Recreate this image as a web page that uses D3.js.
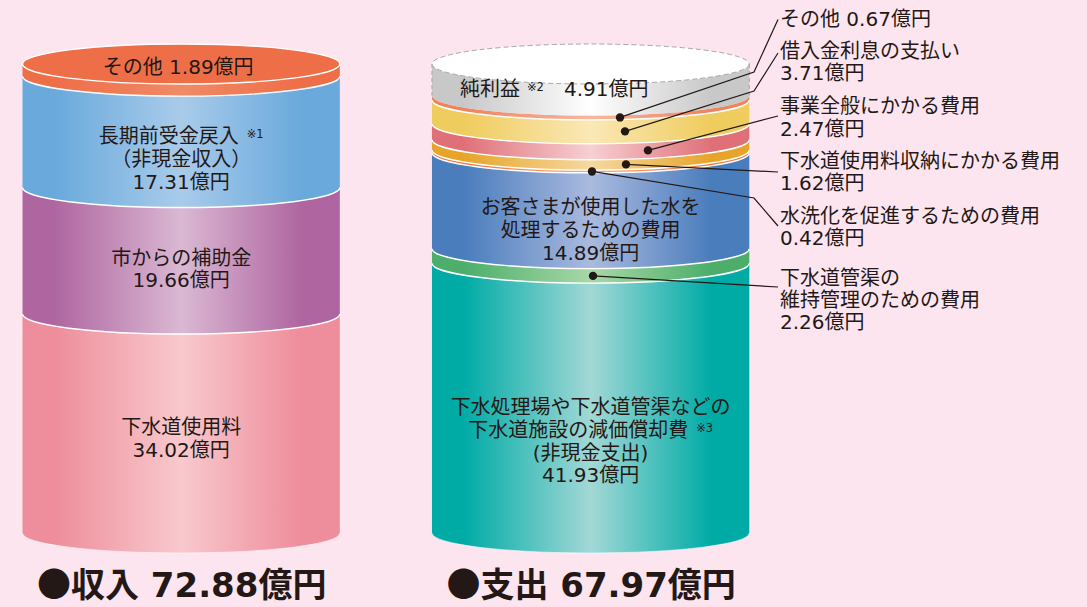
<!DOCTYPE html>
<html><head><meta charset="utf-8">
<script src="https://cdn.jsdelivr.net/npm/d3@7"></script>
<style>html,body{margin:0;padding:0;background:#fce5ef;} svg{display:block;}</style>
</head><body><svg id="chart" width="1087" height="607"></svg>
<script>
// ---------- data ----------
const cylinders = ["収入", "支出"];
const incomeCategories = ["下水道使用料", "市からの補助金", "長期前受金戻入", "その他"];   // bottom → top
const incomeValues = [34.02, 19.66, 17.31, 1.89];
const expenseCategories = [
  "下水処理場や下水道管渠などの下水道施設の減価償却費",
  "下水道管渠の維持管理のための費用",
  "お客さまが使用した水を処理するための費用",
  "水洗化を促進するための費用",
  "下水道使用料収納にかかる費用",
  "事業全般にかかる費用",
  "借入金利息の支払い",
  "その他",
  "純利益"
];                                                                        // bottom → top
const expenseValues = [41.93, 2.26, 14.89, 0.42, 1.62, 2.47, 3.71, 0.67, 4.91];
const unit = "億円";

// ---------- styles ----------
const incomeColors = [["#ee8d9b", "#f8c9cd"], ["#af66a0", "#dab8d3"], ["#69a9dc", "#a9cbea"], ["#ee6e48", "#f08a66"]];
const expenseColors = [
  ["#00aba6", "#a2d8d6"], ["#4cae6a", "#a8d8a8"], ["#4a7dbc", "#aabadf"], ["#f0783e", "#f7a77c"],
  ["#e6a52a", "#f5d9a0"], ["#e07078", "#f6d0d3"], ["#efcc5e", "#fae8b6"], ["#f0825c", "#f8b8a0"], ["#c8c8c8", "#ffffff"]
];
const textColor = "#231815";
const fontFamily = "'DejaVu Sans', 'Noto Sans CJK JP', sans-serif";
const cjkFont = "'Noto Sans CJK JP', sans-serif";
const fs = 20;

// ---------- layout ----------
const svg = d3.select("#chart");
const ry = 20;
const total = d3.sum(incomeValues);
const y = d3.scaleLinear().domain([0, total]).range([533, 64]);
const x = d3.scaleBand().domain(cylinders).range([22.5, 749.3]).paddingInner(0.225);
const lineH = 22.7;

const defs = svg.append("defs");
function grad(id, c) {
  const g = defs.append("linearGradient").attr("id", id).attr("x1", 0).attr("x2", 1).attr("y1", 0).attr("y2", 0);
  [[0, c[0]], [0.1, c[0]], [0.5, c[1]], [0.88, c[0]], [1, c[0]]].forEach(([o, col]) =>
    g.append("stop").attr("offset", o).attr("stop-color", col));
  return `url(#${id})`;
}

function bandPath(x0, x1, yTop, yBot) {
  const rx = (x1 - x0) / 2;
  return `M${x0},${yTop} A${rx},${ry} 0 0 0 ${x1},${yTop} L${x1},${yBot} A${rx},${ry} 0 0 1 ${x0},${yBot} Z`;
}
function arcPath(x0, x1, yy) {
  const rx = (x1 - x0) / 2;
  return `M${x0},${yy} A${rx},${ry} 0 0 0 ${x1},${yy}`;
}

function stackOf(values) {
  let c = 0;
  return values.map(v => { const s = { v, y0: c, y1: c + v }; c += v; return s; });
}

function drawCylinder(key, values, colors, prefix, topStyle) {
  const x0 = x(key), x1 = x(key) + x.bandwidth();
  const g = svg.append("g");
  const stack = stackOf(values);
  g.selectAll("path.band").data(stack).join("path")
    .attr("class", "band")
    .attr("d", d => bandPath(x0, x1, y(d.y1), y(d.y0)))
    .attr("fill", (d, i) => grad(`${prefix}${i}`, colors[i]));
  g.selectAll("path.sep").data(stack.slice(0, -1).filter((d, i) => !(topStyle === "dashed" && i === stack.length - 2)))
    .join("path").attr("class", "sep")
    .attr("d", d => arcPath(x0, x1, y(d.y1)))
    .attr("fill", "none").attr("stroke", "#ffffff").attr("stroke-width", 1.4);
  g.append("path").attr("d", arcPath(x0, x1, y(0))).attr("fill", "none").attr("stroke", "#fff").attr("stroke-opacity", 0.5).attr("stroke-width", 1);
  const cx = (x0 + x1) / 2, rx = (x1 - x0) / 2, yt = y(d3.sum(values));
  if (topStyle === "dashed") {
    const last = stack[stack.length - 1];
    g.selectAll("line.edge").data([x0, x1]).join("line")
      .attr("x1", d => d).attr("x2", d => d).attr("y1", y(last.y1)).attr("y2", y(last.y0))
      .attr("stroke", "#a8a8a8").attr("stroke-dasharray", "4,3").attr("stroke-width", 1);
    g.append("ellipse").attr("cx", cx).attr("cy", yt).attr("rx", rx).attr("ry", ry)
      .attr("fill", "#ffffff").attr("stroke", "#a8a8a8").attr("stroke-width", 1).attr("stroke-dasharray", "5,3");
  } else {
    g.append("ellipse").attr("cx", cx).attr("cy", yt).attr("rx", rx).attr("ry", ry)
      .attr("fill", colors[colors.length - 1][0]).attr("stroke", "#ffffff").attr("stroke-width", 1.4);
  }
  return { x0, x1, cx, rx, stack };
}

const L = drawCylinder("収入", incomeValues, incomeColors, "gi", "solid");
const R = drawCylinder("支出", expenseValues, expenseColors, "ge", "dashed");

const fmt = v => v.toFixed(2) + unit;

// ---------- in-cylinder labels ----------
function blockLabel(cyl, idx, lines, dy, note) {
  const s = cyl.stack[idx];
  const yc = y((s.y0 + s.y1) / 2) + ry + dy;
  const top = yc - (lines.length - 1) * lineH / 2;
  lines.forEach((ln, k) => {
    const t = svg.append("text").attr("x", cyl.cx).attr("y", top + k * lineH)
      .attr("dy", "0.36em").attr("text-anchor", "middle")
      .attr("font-family", fontFamily).attr("font-size", fs).attr("fill", textColor);
    t.append("tspan").text(ln);
    if (note && k === note.line) {
      t.append("tspan").attr("font-size", 11.5).attr("dx", 8).attr("dy", "-0.45em").text(note.text);
    }
  });
}
blockLabel(L, 0, [incomeCategories[0], fmt(incomeValues[0])], -5);
blockLabel(L, 1, [incomeCategories[1], fmt(incomeValues[1])], -2);
blockLabel(L, 2, [incomeCategories[2], "（非現金収入）", fmt(incomeValues[2])], 7, { line: 0, text: "※1" });
svg.append("text").attr("x", L.cx - 3).attr("y", y(total) + 3).attr("dy", "0.36em").attr("text-anchor", "middle")
  .attr("font-family", fontFamily).attr("font-size", fs).attr("fill", textColor)
  .text(`${incomeCategories[3]} ${fmt(incomeValues[3])}`);

blockLabel(R, 0, ["下水処理場や下水道管渠などの", "下水道施設の減価償却費", "(非現金支出)", fmt(expenseValues[0])], 23, { line: 1, text: "※3" });
blockLabel(R, 2, ["お客さまが使用した水を", "処理するための費用", fmt(expenseValues[2])], 9);
{
  const t = svg.append("text").attr("x", R.x0 + 28).attr("y", y(total) + 25).attr("dy", "0.36em")
    .attr("font-family", fontFamily).attr("font-size", fs).attr("fill", textColor);
  t.append("tspan").text(expenseCategories[8]);
  t.append("tspan").attr("font-size", 11.5).attr("dx", 7).attr("dy", "-0.45em").text("※2");
  t.append("tspan").attr("dx", 20).attr("dy", "0.25em").text(fmt(expenseValues[8]));
}

// ---------- annotations ----------
const annotations = [
  { i: 7, dotX: 620, lines: ["その他 " + fmt(expenseValues[7])], textY: 18.5, endY: 19.5, elbow: [754, 72] },
  { i: 6, dotX: 625, lines: [expenseCategories[6], fmt(expenseValues[6])], textY: 50.4, endY: 53, elbow: [754, 91] },
  { i: 5, dotX: 648, lines: [expenseCategories[5], fmt(expenseValues[5])], textY: 105.9, endY: 116 },
  { i: 4, dotX: 626, lines: [expenseCategories[4], fmt(expenseValues[4])], textY: 160.7, endY: 172 },
  { i: 3, dotX: 592, lines: [expenseCategories[3], fmt(expenseValues[3])], textY: 215.8, endY: 226, elbow: [754, 198] },
  { i: 1, dotX: 593, lines: ["下水道管渠の", "維持管理のための費用", fmt(expenseValues[1])], textY: 277.3, endY: 287 }
];
const textX = 780;
annotations.forEach(a => {
  const s = R.stack[a.i];
  const dyArc = ry * Math.sqrt(1 - Math.pow((a.dotX - R.cx) / R.rx, 2));
  const dotY = y((s.y0 + s.y1) / 2) + dyArc;
  const pts = [[a.dotX, dotY]];
  if (a.elbow) pts.push(a.elbow);
  pts.push([textX - 2, a.endY]);
  svg.append("path").attr("d", d3.line()(pts)).attr("fill", "none").attr("stroke", textColor).attr("stroke-width", 1.2);
  svg.append("circle").attr("cx", a.dotX).attr("cy", dotY).attr("r", 4.2).attr("fill", textColor);
  a.lines.forEach((ln, k) => {
    svg.append("text").attr("x", textX).attr("y", a.textY + k * 22.4).attr("dy", "0.36em")
      .attr("font-family", fontFamily).attr("font-size", fs).attr("fill", textColor).text(ln);
  });
});

// ---------- titles ----------
const netProfit = expenseValues[8];
const totals = [d3.sum(incomeValues), d3.sum(expenseValues) - netProfit];
const titles = svg.selectAll("text.title").data(cylinders).join("text").attr("class", "title")
  .attr("x", d => x(d) + 14.5).attr("y", 597)
  .attr("font-family", fontFamily).attr("font-size", 34).attr("font-weight", 700).attr("fill", textColor);
titles.append("tspan").attr("font-family", cjkFont).text("●");
titles.append("tspan").text((d, i) => `${d} ${totals[i].toFixed(2)}${unit}`);
</script>
</body></html>
